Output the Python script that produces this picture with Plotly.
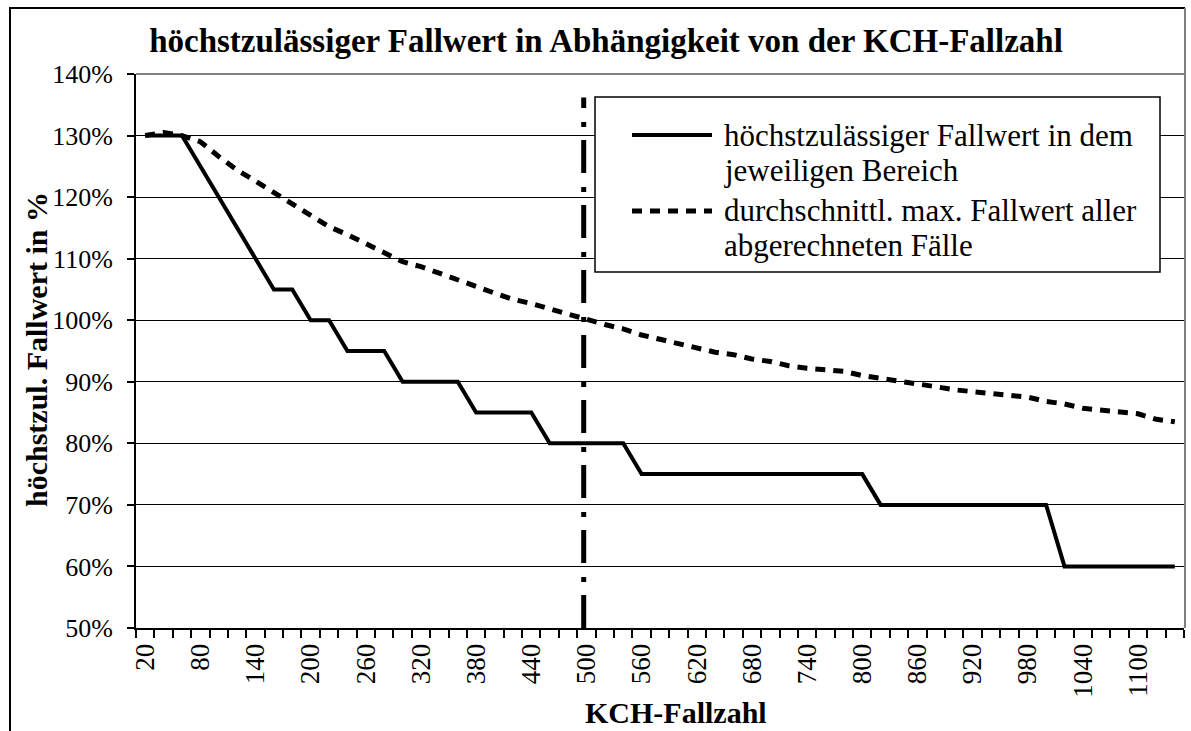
import plotly.graph_objects as go

# ---------------- data ----------------
kch_fallzahl = list(range(20, 1141, 20))  # categories 20..1140

hoechst_fallwert = [130, 130, 130, 125, 120, 115, 110, 105, 105, 100,
                    100, 95, 95, 95, 90, 90, 90, 90, 85, 85,
                    85, 85, 80, 80, 80, 80, 80, 75, 75, 75,
                    75, 75, 75, 75, 75, 75, 75, 75, 75, 75,
                    70, 70, 70, 70, 70, 70, 70, 70, 70, 70,
                    60, 60, 60, 60, 60, 60, 60]

durchschn_fallwert = [130, 130.5, 130, 129, 126.6, 124.4, 122.6, 120.7, 118.8, 117,
                      115.2, 113.9, 112.4, 110.9, 109.5, 108.7, 107.7, 106.6, 105.5, 104.4,
                      103.4, 102.7, 101.8, 100.9, 100, 99.3, 98.6, 97.6, 96.9, 96.2,
                      95.5, 94.8, 94.4, 93.7, 93.3, 92.6, 92.2, 92.0, 91.7, 91.0,
                      90.6, 90.2, 89.7, 89.2, 88.7, 88.4, 88.1, 87.7, 87.5, 86.8,
                      86.4, 85.7, 85.4, 84.9, 84.8, 83.9, 83.5]

x_tick_values = [20, 80, 140, 200, 260, 320, 380, 440, 500, 560, 620, 680,
                 740, 800, 860, 920, 980, 1040, 1100]
x_tick_labels = [str(v) for v in x_tick_values]

y_tick_values = [50, 60, 70, 80, 90, 100, 110, 120, 130, 140]
y_tick_labels = [f"{v}%" for v in y_tick_values]

grenze_x = 497          # position of the vertical marker (KCH-Fallzahl ~500)
grenze_y = [50, 136.2]

legend_lines_1 = ["höchstzulässiger Fallwert in dem", "jeweiligen Bereich"]
legend_lines_2 = ["durchschnittl. max. Fallwert aller", "abgerechneten Fälle"]

title_text = "höchstzulässiger Fallwert in Abhängigkeit von der KCH-Fallzahl"
x_title = "KCH-Fallzahl"
y_title = "höchstzul. Fallwert in %"

# ---------------- figure ----------------
FONT = "Liberation Serif, Times New Roman, serif"
W, H = 1191, 731
L, R, T, B = 136, 7, 74, 103

def px_x(px):
    return (px - L) / (W - L - R)

def px_y(py):
    return (H - B - py) / (H - T - B)

fig = go.Figure()

fig.add_trace(go.Scatter(x=kch_fallzahl, y=hoechst_fallwert, mode="lines",
                         line=dict(color="black", width=4),
                         name=" ".join(legend_lines_1), showlegend=False))
fig.add_trace(go.Scatter(x=kch_fallzahl, y=durchschn_fallwert, mode="lines",
                         line=dict(color="black", width=5, dash="10px,8px"),
                         name=" ".join(legend_lines_2), showlegend=False))
fig.add_trace(go.Scatter(x=[grenze_x, grenze_x], y=grenze_y, mode="lines",
                         line=dict(color="black", width=5, dash="33px,13px,5px,14px"),
                         showlegend=False, hoverinfo="skip"))

shapes = []
# outer chart border (left + top), clipped at the bottom of the page
shapes.append(dict(type="path", xref="paper", yref="paper",
                   path=f"M {px_x(10)},{px_y(760)} L {px_x(10)},{px_y(8)} L {px_x(1185)},{px_y(8)}",
                   line=dict(color="black", width=2)))
# right edge
shapes.append(dict(type="line", xref="paper", yref="paper",
                   x0=px_x(1185), x1=px_x(1185), y0=px_y(8), y1=0,
                   line=dict(color="#808080", width=2)))
# plot-area top border (gray)
shapes.append(dict(type="line", xref="paper", yref="paper",
                   x0=0, x1=1, y0=1, y1=1, line=dict(color="#808080", width=2)))
# legend box
lx0, lx1, ly0, ly1 = 595, 1160, 97, 272
shapes.append(dict(type="rect", xref="paper", yref="paper",
                   x0=px_x(lx0), x1=px_x(lx1), y0=px_y(ly1), y1=px_y(ly0),
                   line=dict(color="black", width=1.5), fillcolor="white", layer="above"))
# legend samples
shapes.append(dict(type="line", xref="paper", yref="paper",
                   x0=px_x(632), x1=px_x(712), y0=px_y(135), y1=px_y(135),
                   line=dict(color="black", width=4), layer="above"))
shapes.append(dict(type="line", xref="paper", yref="paper",
                   x0=px_x(632), x1=px_x(712), y0=px_y(211), y1=px_y(211),
                   line=dict(color="black", width=5, dash="10px,8px"), layer="above"))

LEG_FONT = dict(family=FONT, size=31, color="black")
annotations = []
for txt, ypx in zip(legend_lines_1 + legend_lines_2, [135, 170, 211, 246]):
    annotations.append(dict(text=txt, xref="paper", yref="paper", x=px_x(722), y=px_y(ypx),
                            xanchor="left", yanchor="middle", align="left", showarrow=False,
                            font=LEG_FONT))
annotations += [
    dict(text=f"<b>{y_title}</b>", xref="paper", yref="paper", x=px_x(36), y=px_y(350),
         xanchor="center", yanchor="middle", textangle=-90, showarrow=False,
         font=dict(family=FONT, size=30, color="black")),
    dict(text=f"<b>{x_title}</b>", xref="paper", yref="paper", x=px_x(676), y=px_y(712),
         xanchor="center", yanchor="middle", showarrow=False,
         font=dict(family=FONT, size=30, color="black")),
]

fig.update_layout(
    width=W, height=H, autosize=False,
    margin=dict(l=L, r=R, t=T, b=B, pad=0),
    paper_bgcolor="white", plot_bgcolor="white",
    title=dict(text=f"<b>{title_text}</b>", x=606 / W, xanchor="center",
               y=1 - 40 / H, yanchor="middle", xref="container", yref="container",
               font=dict(family=FONT, size=33, color="black")),
    font=dict(family=FONT, color="black"),
    shapes=shapes,
    annotations=annotations,
    showlegend=False,
)

fig.update_xaxes(
    type="linear", range=[10, 1150],
    tickmode="array", tickvals=x_tick_values, ticktext=x_tick_labels,
    tickangle=-90, tickfont=dict(family=FONT, size=27, color="black"),
    ticks="outside", ticklen=3, tickcolor="rgba(0,0,0,0)",
    showgrid=False, zeroline=False,
    showline=True, linecolor="black", linewidth=2,
    minor=dict(tickmode="linear", tick0=10, dtick=20, ticks="outside",
               ticklen=8, tickwidth=1.5, tickcolor="black", showgrid=False),
)
fig.update_yaxes(
    range=[50, 140], tickmode="array", tickvals=y_tick_values, ticktext=y_tick_labels,
    tickfont=dict(family=FONT, size=26, color="black"),
    ticks="outside", ticklen=7, tickwidth=1.5, tickcolor="black",
    showgrid=True, gridcolor="black", gridwidth=1.3,
    zeroline=False, showline=True, linecolor="black", linewidth=2,
    ticklabelstandoff=9,
)

fig.write_html("out.html", config={"displayModeBar": False},
               post_script="document.body.style.margin='0';document.body.style.padding='0';")
